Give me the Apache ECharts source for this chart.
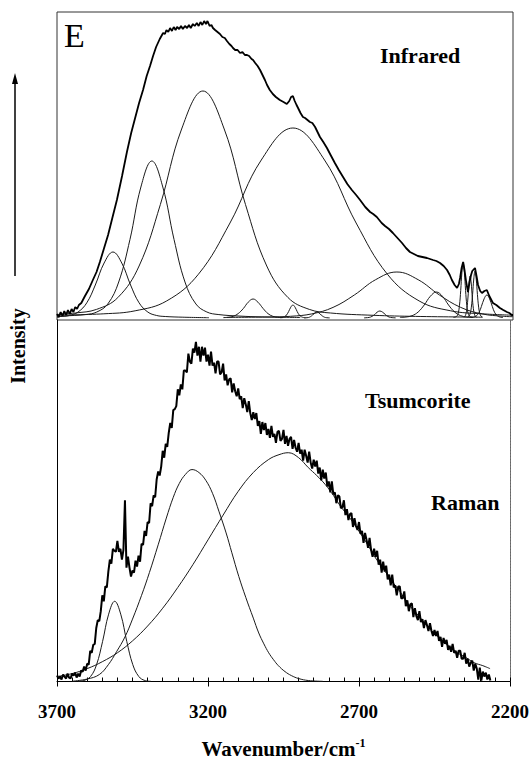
<!DOCTYPE html>
<html><head><meta charset="utf-8">
<script src="https://cdn.jsdelivr.net/npm/echarts@6/dist/echarts.min.js"></script>
<style>html,body{margin:0;padding:0;background:#fff}#c{width:532px;height:760px}</style>
</head><body><div id="c"></div>
<script>
// ---------- data (wavenumber cm-1, intensity a.u.) ----------
const xTicks = [2200, 2700, 3200, 3700];

// Infrared experimental envelope
const irEnvelope = [[3700,4],[3694,1],[3688,6],[3682,2],[3676,7],[3670,3],[3664,8],[3658,4],[3652,9],[3646,6],[3640,11],[3634,9],[3628,13],[3620,15],[3608,22],[3595,29],[3582,38],[3570,46],[3559,56],[3546,69],[3532,83],[3518,100],[3503,118],[3486,142],[3470,166],[3456,185],[3443,200],[3430,215],[3417,228],[3405,242],[3394,252],[3384,262],[3374,271],[3362,279],[3351,285],[3345,284],[3340,288],[3334,286],[3328,290],[3322,287],[3316,291],[3310,288],[3305,291],[3298,289],[3292,292],[3286,289],[3279,292],[3272,290],[3266,293],[3260,290],[3253,294],[3247,292],[3240,295],[3234,292],[3228,296],[3222,293],[3216,297],[3210,294],[3205,297],[3198,292],[3192,293],[3187,290],[3180,288],[3172,286],[3164,284],[3156,281],[3148,280],[3141,277],[3133,274],[3126,272],[3121,270],[3114,268],[3106,268],[3098,265],[3090,266],[3082,263],[3075,263],[3068,262],[3060,259],[3055,258],[3048,255],[3040,252],[3032,248],[3024,243],[3016,238],[3009,233],[3000,228],[2990,224],[2980,221],[2967,218],[2955,216],[2944,214],[2936,217],[2930,221],[2924,222],[2918,217],[2912,213],[2907,210],[2899,205],[2891,201],[2884,200],[2876,198],[2868,196],[2860,195],[2851,191],[2843,186],[2835,181],[2824,176],[2812,170],[2800,163],[2786,155],[2773,148],[2759,141],[2745,134],[2730,128],[2716,123],[2703,118],[2686,111],[2670,106],[2660,104],[2648,101],[2640,98],[2632,95],[2621,92],[2608,89],[2595,85],[2580,80],[2565,75],[2552,70],[2539,66],[2526,64],[2513,62],[2498,61],[2483,60],[2473,59],[2463,58],[2452,57],[2440,55],[2428,52],[2417,48],[2408,43],[2401,38],[2392,33],[2384,30],[2378,34],[2374,40],[2369,50],[2364,56],[2359,47],[2354,36],[2348,26],[2343,36],[2338,43],[2334,47],[2331,48],[2325,50],[2320,42],[2315,33],[2308,27],[2302,25],[2294,27],[2286,28],[2278,22],[2266,15],[2255,13],[2243,10],[2232,8],[2220,6],[2212,5],[2204,3],[2200,3]];

// Infrared fitted component bands
const ir3516 = [[3700,1.0],[3689,1.5],[3660,2.5],[3631,5.9],[3602,15.2],[3574,33],[3545,55],[3516,66],[3487,55],[3458,33],[3430,15.2],[3401,5.9],[3372,2.5],[3344,1.5],[3286,0.8],[3200,0.3]];
const ir3388 = [[3700,0.9],[3678,1.9],[3605,3.5],[3569,6],[3533,14],[3497,36],[3460,78.5],[3424,131],[3388,157],[3352,131],[3315,78.5],[3279,36],[3243,14],[3207,6],[3170,3.5],[3098,1.9],[3026,1.1],[2900,0.5]];
const ir3220 = [[3700,3.5],[3640,5],[3570,8.6],[3500,20.4],[3430,52],[3360,113.5],[3290,189],[3220,227],[3150,189],[3080,113.5],[3010,52],[2940,20.4],[2870,8.6],[2800,5],[2660,2.7],[2520,1.6],[2300,0.8]];
const ir2924 = [[3700,2.8],[3546,4.2],[3443,7.2],[3339,17.1],[3235,43.7],[3131,95],[3028,158],[2924,190],[2820,158],[2716,95],[2613,43.7],[2509,17.1],[2405,7.2],[2301,4.2],[2200,2.8]];
const ir3055 = [[3153,0.4],[3136,0.7],[3120,1.7],[3104,4.4],[3087,9.5],[3071,15.8],[3055,19],[3039,15.8],[3022,9.5],[3006,4.4],[2990,1.7],[2974,0.7],[2957,0.4]];
const ir2925n = [[2966,0.3],[2959,0.5],[2952,1.2],[2945,3.0],[2938,6.5],[2931,10.8],[2924,13],[2917,10.8],[2910,6.5],[2903,3.0],[2896,1.2],[2889,0.5],[2882,0.3]];
const ir2845 = [[2887,0.1],[2873,0.5],[2866,1.4],[2859,3],[2852,5],[2845,6],[2838,5],[2831,3],[2824,1.4],[2817,0.5],[2803,0.1]];
const ir2638 = [[2690,0.15],[2673,0.6],[2664,1.6],[2655,3.5],[2647,5.8],[2638,7],[2629,5.8],[2620,3.5],[2612,1.6],[2603,0.6],[2586,0.15]];
const ir2582 = [[3142,0.6],[3002,1.0],[2932,1.7],[2862,4.1],[2792,10.6],[2722,23],[2652,38.3],[2582,46],[2512,38.3],[2442,23],[2372,10.6],[2302,4.1],[2232,1.7],[2200,1.3]];
const ir2452 = [[2572,0.6],[2552,1],[2532,2.3],[2512,6],[2492,13],[2472,21.7],[2452,26],[2432,21.7],[2412,13],[2392,6],[2372,2.3],[2352,1],[2332,0.6]];
const ir2364 = [[2396,0.6],[2388,1.2],[2384,2.1],[2380,5],[2376,12.7],[2372,27.5],[2368,45.8],[2364,55],[2360,45.8],[2356,27.5],[2352,12.7],[2348,5],[2344,2.1],[2340,1.2],[2332,0.6]];
const ir2341 = [[2362,0.9],[2358.5,1.6],[2355,3.8],[2351.5,9.7],[2348,21],[2344.5,35],[2341,42],[2337.5,35],[2334,21],[2330.5,9.7],[2327,3.8],[2323.5,1.6],[2320,0.9]];
const ir2325 = [[2349,1.0],[2345,1.8],[2341,4.2],[2337,10.8],[2333,23.5],[2329,39],[2325,47],[2321,39],[2317,23.5],[2313,10.8],[2309,4.2],[2305,1.8],[2301,1.0]];
const ir2286 = [[2339,0.5],[2330,0.9],[2321,2.1],[2312,5.3],[2304,11.5],[2295,19.2],[2286,23],[2277,19.2],[2268,11.5],[2260,5.3],[2251,2.1],[2242,0.9],[2233,0.5]];

// Raman experimental envelope: readings every 5 cm-1 starting at 3700 cm-1
const ramanStart = 3700;
const ramanStep = 5;
const ramanValues = [
6,3,5,2,7,5,3,8,4,3,8,6,9,4,8,5,11,10,15,11,
18,17,31,29,37,38,54,62,61,71,87,81,96,95,111,123,119,134,132,131,
142,131,134,123,133,183,115,126,115,106,112,110,122,116,127,121,139,138,152,147,
161,160,180,177,188,186,204,212,208,217,233,226,240,237,251,261,256,274,275,278,
295,289,300,295,314,314,312,331,323,321,336,332,343,329,338,323,338,329,337,323,
330,319,333,319,322,311,323,323,310,312,321,304,310,299,305,306,292,301,293,288,
296,285,288,276,286,280,272,283,271,264,272,265,271,258,263,250,262,254,261,249,
255,246,258,247,250,241,252,253,243,245,254,240,248,238,245,247,235,244,236,232,
241,230,234,223,234,228,221,232,221,215,224,217,223,210,216,203,214,205,211,197,
202,191,202,189,191,180,188,187,175,176,183,168,174,163,169,170,156,165,157,153,
161,149,152,140,150,143,135,145,133,126,134,126,132,118,123,110,121,111,117,103,
108,97,108,95,97,87,96,96,84,84,91,76,82,71,78,79,65,74,66,62,
71,60,63,54,62,57,51,59,51,46,52,46,51,41,45,35,44,38,42,32,
36,30,38,29,31,24,31,31,23,23,29,18,23,15,19,21,11,18,13,2,
14,1,10,5,9,2,7,1];

// Raman fitted component bands
const raman3509 = [[3631,0.2],[3611,1],[3589,5],[3569,17],[3549,40.5],[3529,68],[3509,81],[3489,68],[3469,40.5],[3449,17],[3429,5],[3409,1],[3389,0.2]];
const raman3250 = [[3650,0.3],[3600,2.5],[3560,7],[3530,17],[3503,30],[3475,45],[3450,63],[3420,87],[3394,110],[3365,138],[3338,165],[3315,186],[3295,200],[3275,209],[3253,214],[3230,211],[3207,203],[3185,190],[3164,172],[3140,150],[3121,130],[3098,106],[3075,85],[3050,64],[3032,49],[3015,38],[2999,29],[2983,22],[2967,16],[2945,10],[2924,6],[2900,3],[2868,1],[2820,0.2]];
const raman2934 = [[3700,5],[3650,8],[3600,13],[3550,20],[3500,29],[3450,41],[3400,56],[3350,74],[3300,95],[3250,118],[3200,143],[3150,168],[3100,192],[3050,211],[3000,224],[2965,229],[2934,231],[2900,226],[2868,216],[2840,208],[2812,199],[2785,188],[2759,176],[2730,165],[2703,153],[2675,140],[2648,126],[2620,114],[2595,103],[2565,91],[2539,79],[2510,69],[2483,59],[2455,50],[2430,43],[2400,35],[2374,29],[2345,24],[2319,19],[2290,16],[2266,13]];

const irComponents = [ir3516, ir3388, ir3220, ir2924, ir3055, ir2925n, ir2845, ir2638, ir2582, ir2452, ir2364, ir2341, ir2325, ir2286];
const ramanComponents = [raman3509, raman3250, raman2934];

// ---------- chart ----------
const ramanEnvelope = ramanValues.map((v, i) => [ramanStart - i * ramanStep, v]);
const serif = '"Liberation Serif", "Times New Roman", serif';
const chart = echarts.init(document.getElementById('c'), null, {renderer: 'svg'});

const series = [];
irComponents.forEach(d => series.push({type:'line', xAxisIndex:0, yAxisIndex:0, data:d, showSymbol:false, smooth:0.4, silent:true,
  lineStyle:{color:'#1a1a1a', width:1}}));
series.push({type:'line', xAxisIndex:0, yAxisIndex:0, data:irEnvelope, showSymbol:false, smooth:false, silent:true,
  lineStyle:{color:'#000', width:1.8}});
ramanComponents.forEach(d => series.push({type:'line', xAxisIndex:1, yAxisIndex:1, data:d, showSymbol:false, smooth:0.4, silent:true,
  lineStyle:{color:'#1a1a1a', width:1}}));
series.push({type:'line', xAxisIndex:1, yAxisIndex:1, data:ramanEnvelope, showSymbol:false, smooth:false, silent:true,
  lineStyle:{color:'#000', width:2}});

const baseX = {type:'value', min:2200, max:3700, inverse:true, splitLine:{show:false}};
chart.setOption({
  animation:false,
  backgroundColor:'#fff',
  grid:[
    {left:57, right:19, top:12, height:308, show:true, borderColor:'#333', borderWidth:1},
    {left:57, right:19, top:320, height:366, show:false}
  ],
  xAxis:[
    Object.assign({}, baseX, {gridIndex:0, interval:500, axisLine:{show:false}, axisTick:{show:false}, axisLabel:{show:false}}),
    Object.assign({}, baseX, {gridIndex:1, interval:500, position:'bottom',
      axisLine:{show:true, lineStyle:{color:'#000', width:1}},
      axisTick:{show:true, length:5, lineStyle:{color:'#000', width:1}},
      axisLabel:{show:true, margin:19, color:'#000', fontFamily:serif, fontWeight:'bold', fontSize:19,
        formatter: v => xTicks.includes(v) ? String(v) : ''},
      name:'{a|Wavenumber/cm}{b|-1}', nameLocation:'middle', nameGap:54,
      nameTextStyle:{rich:{
        a:{fontFamily:serif, fontWeight:'bold', fontSize:21, color:'#000', lineHeight:24},
        b:{fontFamily:serif, fontWeight:'bold', fontSize:12, color:'#000', verticalAlign:'top', lineHeight:24}
      }}}),
    Object.assign({}, baseX, {gridIndex:1, interval:50, position:'bottom', offset:0,
      axisLine:{show:false}, axisTick:{show:true, inside:true, length:4, lineStyle:{color:'#000', width:1}},
      axisLabel:{show:false}})
  ],
  yAxis:[
    {gridIndex:0, type:'value', min:-2, max:306, show:false},
    {gridIndex:1, type:'value', min:-1, max:365, position:'left', axisLine:{show:true, lineStyle:{color:'#000', width:1}},
      axisTick:{show:false}, axisLabel:{show:false}, splitLine:{show:false}},
    {gridIndex:1, type:'value', min:-1, max:365, position:'right', axisLine:{show:true, lineStyle:{color:'#666', width:1, type:[2,1]}},
      axisTick:{show:false}, axisLabel:{show:false}, splitLine:{show:false}}
  ],
  series: series,
  graphic:[
    {type:'text', x:64, y:35, style:{text:'E', font:'34px ' + serif, fill:'#000', textAlign:'left', textVerticalAlign:'middle'}},
    {type:'text', x:380, y:55, style:{text:'Infrared', font:'bold 22px ' + serif, fill:'#000', textAlign:'left', textVerticalAlign:'middle'}},
    {type:'text', x:365, y:400, style:{text:'Tsumcorite', font:'bold 22px ' + serif, fill:'#000', textAlign:'left', textVerticalAlign:'middle'}},
    {type:'text', x:431, y:502, style:{text:'Raman', font:'bold 22px ' + serif, fill:'#000', textAlign:'left', textVerticalAlign:'middle'}},
    {type:'text', x:18, y:346, rotation:Math.PI/2, style:{text:'Intensity', font:'bold 20px ' + serif, fill:'#000', textAlign:'center', textVerticalAlign:'middle'}},
    {type:'line', shape:{x1:15, y1:276, x2:15, y2:82}, style:{stroke:'#000', lineWidth:1.5}},
    {type:'polygon', shape:{points:[[15,73],[12,84],[18,84]]}, style:{fill:'#000'}}
  ]
});
</script>
</body></html>
